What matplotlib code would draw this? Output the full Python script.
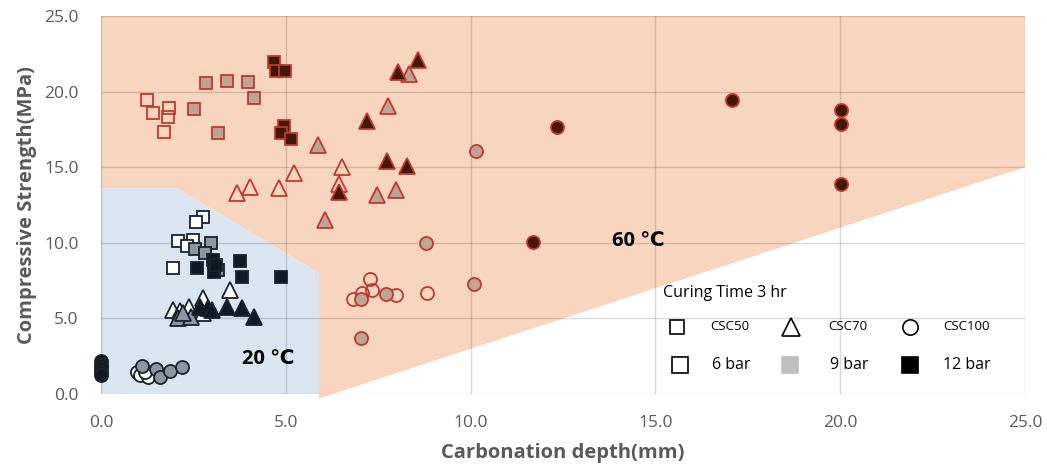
import matplotlib
matplotlib.use("Agg")
import matplotlib.pyplot as plt
from matplotlib.patches import Polygon

plt.rcParams['font.family'] = ['Open Sans', 'DejaVu Sans']

# ---------------- data ----------------
# 20 C, CSC50 (squares)
sq20_6_x = [2.75, 2.57, 2.09, 2.50, 2.32, 1.94]
sq20_6_y = [11.69, 11.40, 10.14, 10.19, 9.79, 8.31]
sq20_9_x = [2.54, 2.98, 2.81, 3.17]
sq20_9_y = [9.57, 9.97, 9.30, 8.20]
sq20_12_x = [2.59, 3.04, 3.06, 3.10, 3.76, 3.81, 4.86]
sq20_12_y = [8.31, 8.86, 8.09, 8.50, 8.82, 7.72, 7.76]
# 20 C, CSC70 (triangles)
tr20_6_x = [3.49, 1.96, 2.39, 2.75, 2.77, 2.15]
tr20_6_y = [6.88, 5.56, 5.73, 6.33, 5.34, 5.50]
tr20_9_x = [2.09, 2.43, 2.23]
tr20_9_y = [5.00, 5.07, 5.34]
tr20_12_x = [2.68, 2.90, 3.40, 3.81, 4.14, 3.00]
tr20_12_y = [5.73, 5.67, 5.77, 5.67, 5.11, 5.56]
# 20 C, CSC100 (circles)
ci20_6_x = [0.97, 1.06, 1.28, 1.19]
ci20_6_y = [1.48, 1.26, 1.15, 1.48]
ci20_9_x = [1.10, 1.49, 1.60, 1.87, 2.18]
ci20_9_y = [1.85, 1.63, 1.15, 1.54, 1.76]
ci20_12_x = [0.0, 0.0, 0.0, 0.0, 0.0]
ci20_12_y = [2.20, 1.95, 1.70, 1.45, 1.25]

# 60 C, CSC50 (squares)
sq60_6_x = [1.24, 1.42, 1.84, 1.82, 1.70]
sq60_6_y = [19.44, 18.61, 18.89, 18.30, 17.35]
sq60_9_x = [2.84, 3.41, 3.99, 4.15, 2.52, 3.16]
sq60_9_y = [20.55, 20.72, 20.66, 19.56, 18.85, 17.24]
sq60_12_x = [4.68, 4.73, 4.98, 4.96, 4.86, 5.14]
sq60_12_y = [21.94, 21.38, 21.38, 17.72, 17.24, 16.87]
# 60 C, CSC70 (triangles)
tr60_6_x = [3.67, 4.03, 4.82, 5.23, 6.51, 6.45]
tr60_6_y = [13.31, 13.71, 13.60, 14.60, 15.04, 13.89]
tr60_9_x = [5.88, 7.77, 8.34, 7.48, 7.98, 6.06]
tr60_9_y = [16.47, 19.05, 21.16, 13.16, 13.49, 11.50]
tr60_12_x = [8.57, 8.03, 7.21, 7.75, 8.29, 6.45]
tr60_12_y = [22.09, 21.32, 18.06, 15.43, 15.08, 13.38]
# 60 C, CSC100 (circles)
ci60_6_x = [7.28, 7.32, 7.07, 6.83, 7.98, 8.83]
ci60_6_y = [7.59, 6.88, 6.66, 6.26, 6.55, 6.66]
ci60_9_x = [10.15, 8.78, 10.10, 7.03, 7.71, 7.03]
ci60_9_y = [16.09, 10.01, 7.25, 6.28, 6.61, 3.68]
ci60_12_x = [11.70, 12.33, 17.06, 20.01, 20.01, 20.01]
ci60_12_y = [10.07, 17.66, 19.44, 18.78, 17.86, 13.87]

# shaded regions (data coordinates)
region60 = [(0, 25), (25, 25), (25, 15), (5.9, -0.3), (5.9, 8.0), (2.05, 13.6), (0, 13.6)]
region20 = [(0, 0), (0, 13.6), (2.05, 13.6), (5.9, 8.0), (5.9, 0)]

x_ticks = [0, 5, 10, 15, 20, 25]
y_ticks = [0, 5, 10, 15, 20, 25]

# ---------------- styles ----------------
C20_EDGE = '#18212c'
C20_FILL = {'6': '#ffffff', '9': '#8e969f', '12': '#111923'}
C60_EDGE = '#c0392b'
C60_FILL = {'6': 'none', '9': '#bda497', '12': '#43180c'}
MS = {'s': 9.2, '^': 11.5, 'o': 9.4}

fig = plt.figure(figsize=(10.47, 4.71), dpi=100)
ax = fig.add_axes([101 / 1047, 1 - 394 / 471, 924 / 1047, 378 / 471])

ax.add_patch(Polygon(region60, closed=True, facecolor='#f8d5bf', edgecolor='none',
                     zorder=0.2, clip_on=False))
ax.add_patch(Polygon(region20, closed=True, facecolor='#dae5f0', edgecolor='none',
                     zorder=0.3))

ax.set_xlim(0, 25)
ax.set_ylim(0, 25)
ax.set_xticks(x_ticks)
ax.set_yticks(y_ticks)
ax.set_xticklabels([f"{v:.1f}" for v in x_ticks])
ax.set_yticklabels([f"{v:.1f}" for v in y_ticks])
ax.set_axisbelow(True)
ax.grid(True, color='black', alpha=0.15, linewidth=1.0)
for s in ax.spines.values():
    s.set_visible(False)
ax.tick_params(length=0, labelsize=12.5, labelcolor='#595959')
ax.tick_params(axis='x', pad=15)
ax.tick_params(axis='y', pad=16)

groups = [
    (sq20_6_x, sq20_6_y, 's', '6', 20), (sq20_9_x, sq20_9_y, 's', '9', 20),
    (sq20_12_x, sq20_12_y, 's', '12', 20),
    (tr20_6_x, tr20_6_y, '^', '6', 20), (tr20_9_x, tr20_9_y, '^', '9', 20),
    (tr20_12_x, tr20_12_y, '^', '12', 20),
    (ci20_6_x, ci20_6_y, 'o', '6', 20), (ci20_9_x, ci20_9_y, 'o', '9', 20),
    (ci20_12_x, ci20_12_y, 'o', '12', 20),
    (sq60_6_x, sq60_6_y, 's', '6', 60), (sq60_9_x, sq60_9_y, 's', '9', 60),
    (sq60_12_x, sq60_12_y, 's', '12', 60),
    (tr60_6_x, tr60_6_y, '^', '6', 60), (tr60_9_x, tr60_9_y, '^', '9', 60),
    (tr60_12_x, tr60_12_y, '^', '12', 60),
    (ci60_6_x, ci60_6_y, 'o', '6', 60), (ci60_9_x, ci60_9_y, 'o', '9', 60),
    (ci60_12_x, ci60_12_y, 'o', '12', 60),
]
for gx, gy, mk, bar, temp in groups:
    if temp == 20:
        fc, ec = C20_FILL[bar], C20_EDGE
    else:
        fc, ec = C60_FILL[bar], C60_EDGE
    ax.plot(gx, gy, linestyle='none', marker=mk, markersize=MS[mk],
            markerfacecolor=fc, markeredgecolor=ec, markeredgewidth=1.3,
            zorder=3, clip_on=False)

ax.text(4.53, 2.3, '20 ℃', ha='center', va='center', fontsize=14.5,
        fontweight='bold', color='black', zorder=4)
ax.text(14.54, 10.1, '60 ℃', ha='center', va='center', fontsize=14.5,
        fontweight='bold', color='black', zorder=4)

ax.set_xlabel('Carbonation depth(mm)', fontsize=14.5, fontweight='bold',
              color='#595959', labelpad=9)
ax.set_ylabel('Compressive Strength(MPa)', fontsize=14.5, fontweight='bold',
              color='#595959', labelpad=5)

# ---------------- legend (manual, axes fraction) ----------------
def fx(px):
    return (px - 101) / 924

def fy(py):
    return (394 - py) / 378

ax.text(fx(663), fy(293), 'Curing Time 3 hr', transform=ax.transAxes,
        ha='left', va='center', fontsize=11.5, color='black')
leg_row1 = [('s', 677, 'CSC50', 710), ('^', 791, 'CSC70', 828), ('o', 910, 'CSC100', 943)]
for mk, mx, lab, tx in leg_row1:
    ax.plot([fx(mx)], [fy(327)], transform=ax.transAxes, marker=mk,
            markersize={'s': 10, '^': 13, 'o': 11}[mk], markerfacecolor='white',
            markeredgecolor='black', markeredgewidth=1.2, linestyle='none',
            clip_on=False, zorder=5)
    ax.text(fx(tx), fy(327), lab, transform=ax.transAxes, ha='left', va='center',
            fontsize=9.5, color='black')
leg_row2 = [('white', 680, '6 bar', 712), ('#bfbfbf', 790, '9 bar', 830),
            ('black', 910, '12 bar', 943)]
for fc, mx, lab, tx in leg_row2:
    ax.plot([fx(mx)], [fy(365)], transform=ax.transAxes, marker='s',
            markersize=12, markerfacecolor=fc,
            markeredgecolor='black' if fc == 'white' else fc, markeredgewidth=1.2,
            linestyle='none', clip_on=False, zorder=5)
    ax.text(fx(tx), fy(365), lab, transform=ax.transAxes, ha='left', va='center',
            fontsize=11.5, color='black')

fig.savefig('out.png', dpi=100)
